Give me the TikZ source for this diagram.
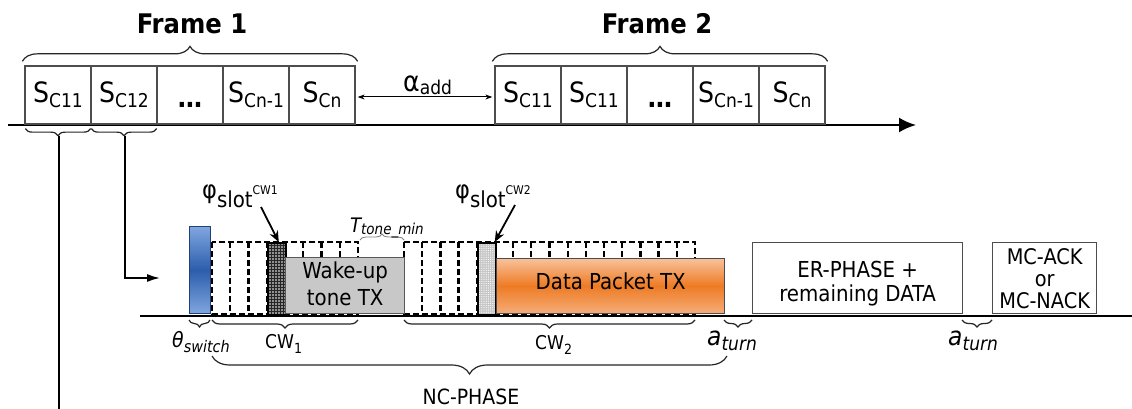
\documentclass[tikz,border=0pt]{standalone}
\usepackage{fontspec}
\setmainfont{DejaVu Sans Condensed}
\usetikzlibrary{decorations.pathreplacing,patterns.meta,arrows.meta,calc}
\newcommand\fsz[1]{\fontsize{#1}{#1}\selectfont}
\newcommand\Sc[1]{{\fsz{28}S}\raisebox{-5pt}{\fsz{19}C#1}}
\newcommand\dotsbox{\raisebox{-5pt}{\fsz{27}\bfseries …}}
\definecolor{edge}{HTML}{4D4D4D}
\definecolor{bluel}{HTML}{80A6DF}
\definecolor{blued}{HTML}{2C5DAC}
\definecolor{grayfill}{HTML}{C8C8C8}
\definecolor{orl}{HTML}{F8C29C}
\definecolor{ord}{HTML}{EE7B24}
\begin{document}
\begin{tikzpicture}[x=1pt,y=-1pt,
  slotbox/.style={draw=edge,line width=1.3pt,minimum width=66pt,minimum height=58pt,inner sep=0pt,text height=20pt,text depth=5pt},
  brc/.style={decorate,decoration={brace,amplitude=#1},line width=1.2pt,draw=black!85},
  brc/.default=8,
  mbrc/.style={decorate,decoration={brace,mirror,amplitude=#1},line width=1.2pt,draw=black!85},
  mbrc/.default=8,
  dsh/.style={draw=black,line width=2.3pt,dash pattern=on 6pt off 3pt},
  conn/.style={draw=black,line width=1.7pt},
  solidbox/.style={draw=edge,line width=1.3pt,inner sep=0pt,anchor=south west},
  txt/.style={inner sep=0pt,font=\fsz{22}},
  lbl/.style={inner sep=0pt,anchor=base west},
]
\useasboundingbox (0,0) rectangle (1132,409);
\fill[white] (0,0) rectangle (1132,409);

% ---------- top time line ----------
\coordinate (ax0) at (8,125);
\coordinate (ax1) at (916,125);
\draw[line width=2.2pt,-{Latex[length=17pt,width=15pt]}] (ax0) -- (ax1);

\node[slotbox] (a1) at (58,95) {\Sc{11}};
\node[slotbox] (a2) at (124,95) {\Sc{12}};
\node[slotbox] (a3) at (190,95) {\dotsbox};
\node[slotbox] (a4) at (256,95) {\Sc{n-1}};
\node[slotbox] (a5) at (322,95) {\Sc{n}};

\node[slotbox] (b1) at (528,95) {\Sc{11}};
\node[slotbox] (b2) at (594,95) {\Sc{11}};
\node[slotbox] (b3) at (660,95) {\dotsbox};
\node[slotbox] (b4) at (726,95) {\Sc{n-1}};
\node[slotbox] (b5) at (792,95) {\Sc{n}};

\draw[brc=15] ([shift={(-2,-4)}]a1.north west) -- ([shift={(2,-4)}]a5.north east);
\draw[brc=15] ([shift={(-2,-4)}]b1.north west) -- ([shift={(2,-4)}]b5.north east);
\node[inner sep=0pt] (f1) at (192,24) {\fsz{27}\bfseries Frame 1};
\node[inner sep=0pt] (f2) at (657,24) {\fsz{27}\bfseries Frame 2};

\draw[line width=1pt,{Stealth[length=7pt,width=5pt]}-{Stealth[length=7pt,width=5pt]}]
  ([shift={(2,2)}]a5.east) -- ([shift={(-2,2)}]b1.west);
\node[lbl] (aadd) at (403,92) {{\fsz{28}α}\raisebox{-3pt}{\fsz{19}add}};

% small braces under first two slots
\draw[mbrc=7] ([shift={(1,4)}]a1.south west) -- ([shift={(-1,4)}]a1.south east);
\draw[mbrc=7] ([shift={(1,4)}]a2.south west) -- ([shift={(-1,4)}]a2.south east);
\coordinate (t1) at ($(a1.south)+(1,11)$);
\coordinate (t2) at ($(a2.south)+(1,11)$);
\coordinate (bot) at (0,409);
\coordinate (arrin) at (160,278);
\draw[conn] (t1) -- (t1 |- bot);
\draw[conn,-{Latex[length=13pt,width=8pt]}] (t2) |- (arrin);

% ---------- lower time line ----------
\coordinate (lx0) at (140,316);
\coordinate (lx1) at (1132,316);
\draw[line width=1.8pt] (lx0) -- (lx1);

% contention windows (dashed slots)
\draw[dsh] (212,242) rectangle (358,314);
\foreach \k in {1,...,7} \draw[dsh] ({212+18.25*\k},242) -- ++(0,72);
\draw[dsh] (404,242) rectangle (695,314);
\foreach \k in {1,...,15} \draw[dsh] ({404+18.1875*\k},242) -- ++(0,72);

% selected slots
\node[draw=black,line width=1.8pt,preaction={fill=black!85},
      pattern={Dots[distance=3pt,radius=0.8pt]},pattern color=white,
      minimum width=18.25pt,minimum height=72pt,inner sep=0pt,anchor=north west] (hs1) at (266.75,242) {};
\node[draw=black,line width=1.8pt,preaction={fill=gray!45},
      pattern={Dots[distance=2.2pt,radius=0.6pt]},pattern color=white,
      minimum width=18.2pt,minimum height=72pt,inner sep=0pt,anchor=north west] (hs2) at (476.75,242) {};

% switch bar
\node[draw=blued!70!black,line width=1pt,top color=bluel,bottom color=bluel,middle color=blued,
      minimum width=21pt,minimum height=87pt,inner sep=0pt,anchor=south west] (sw) at (189,314) {};

% wake-up tone
\node[solidbox,draw=black!65,fill=grayfill,minimum width=119pt,minimum height=56pt] (wake) at (285,314) {};
\node[inner sep=0pt,align=center,font=\fontsize{22}{27}\selectfont] (waket) at ($(wake.center)+(0,-2)$) {Wake-up\\tone TX};

% data packet
\node[solidbox,top color=orl,bottom color=orl!70!ord,middle color=ord,minimum width=228pt,minimum height=55pt] (data) at (496,314) {};
\node[txt] (datat) at ($(data.center)+(0,-5)$) {Data Packet TX};

% ER phase
\node[solidbox,fill=white,minimum width=210pt,minimum height=71pt] (er) at (752,314) {};
\node[inner sep=0pt,align=center,font=\fontsize{22}{24}\selectfont] (ert) at ($(er.center)+(0,6)$) {ER-PHASE +\\remaining DATA};

% MC-ACK
\node[solidbox,fill=white,minimum width=104pt,minimum height=71pt] (mc) at (992,314) {};
\node[inner sep=0pt,align=center,font=\fontsize{21.5}{22}\selectfont] (mct) at ($(mc.center)+(0,1)$) {MC-ACK\\or\\MC-NACK};

% labels above
\node[lbl] (phi1) at (202,198) {{\fsz{25}φ}\raisebox{-9pt}{\fsz{22}slot}\raisebox{4pt}{\fsz{12}CW1}};
\node[lbl] (phi2) at (455,198) {{\fsz{25}φ}\raisebox{-9pt}{\fsz{22}slot}\raisebox{4pt}{\fsz{12}CW2}};
\coordinate (p1s) at (261,207);
\coordinate (p2s) at (515,205);
\draw[line width=1.8pt,-{Stealth[length=11pt,width=9pt]}] (p1s) -- ($(hs1.north)+(2,0)$);
\draw[line width=1.8pt,-{Stealth[length=11pt,width=9pt]}] (p2s) -- ($(hs2.north east)+(-2,0)$);

\draw[decorate,decoration={brace,amplitude=6},line width=0.8pt,draw=gray] (360,240) -- (404,240);
\node[lbl] (ttone) at (350,232) {{\fsz{20}\itshape T}\raisebox{-2pt}{\fsz{15}\itshape tone\_min}};

% braces below
\draw[mbrc=7] (189,320) -- (210,320);
\draw[mbrc=8] (212,320) -- (358,320);
\draw[mbrc=8] (404,320) -- (695,320);
\draw[mbrc=7] (724,320) -- (752,320);
\draw[mbrc=7] (962,320) -- (992,320);
\draw[mbrc=18] (212,356) -- (727,356);

\node[lbl] (theta) at (172,347) {{\fsz{21}\itshape θ}\raisebox{-5pt}{\fsz{16}\itshape switch}};
\node[lbl] (cw1) at (265,348) {{\fsz{19}CW}\raisebox{-5pt}{\fsz{14}1}};
\node[lbl] (cw2) at (535,349) {{\fsz{19}CW}\raisebox{-5pt}{\fsz{14}2}};
\node[lbl] (at1) at (707,345) {{\fsz{26}\itshape a}\raisebox{-5pt}{\fsz{19}\itshape turn}};
\node[lbl] (at2) at (948,345) {{\fsz{26}\itshape a}\raisebox{-5pt}{\fsz{19}\itshape turn}};
\node[inner sep=0pt] (nc) at (471,397) {\fsz{21}NC-PHASE};
\end{tikzpicture}
\end{document}
